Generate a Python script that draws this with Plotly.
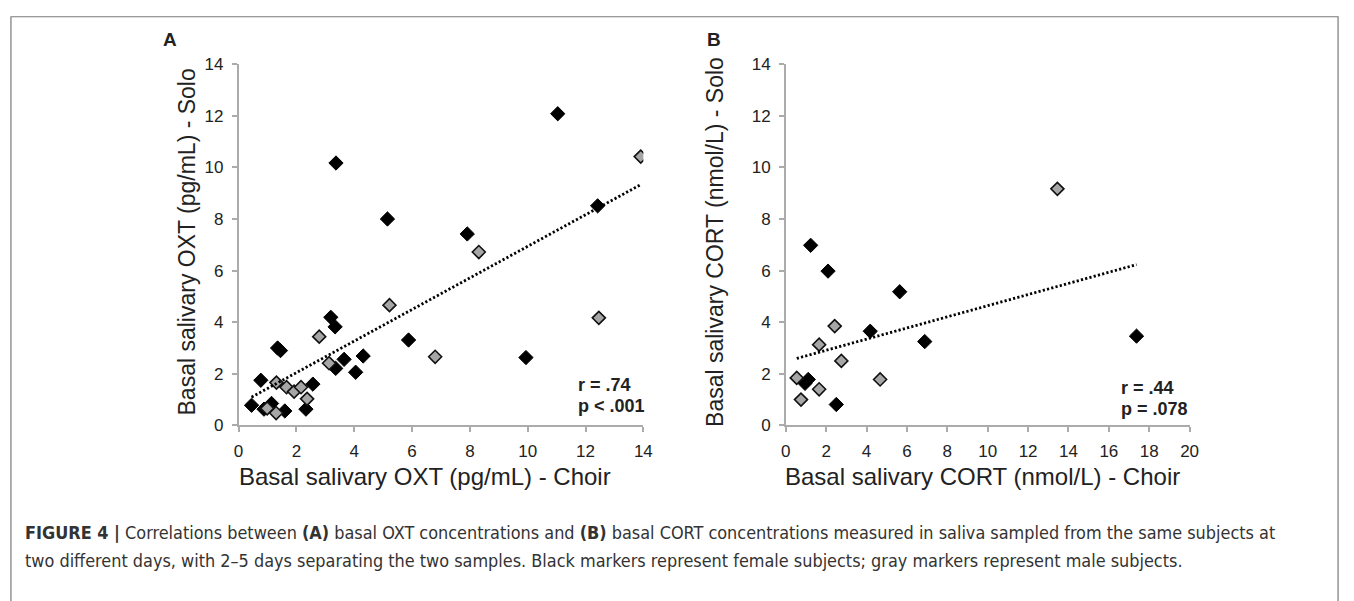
import plotly.graph_objects as go

# ---------------- data ----------------
# Panel A: OXT (pg/mL), Choir (x) vs Solo (y)
a_female_x = [3.37, 11.04, 5.15, 7.91, 12.42, 3.19, 3.34, 5.88, 1.35, 1.45, 4.31,
              3.65, 3.36, 4.05, 9.94, 0.77, 2.57, 2.33, 0.45, 0.88, 1.14, 1.60]
a_female_y = [10.17, 12.08, 8.00, 7.42, 8.51, 4.19, 3.82, 3.31, 3.00, 2.90, 2.69,
              2.56, 2.21, 2.06, 2.63, 1.75, 1.60, 0.63, 0.78, 0.63, 0.85, 0.56]
a_male_x = [13.91, 8.31, 5.22, 2.79, 3.13, 6.80, 12.46, 1.31, 1.66, 1.92, 2.16, 2.37, 0.99, 1.30]
a_male_y = [10.42, 6.72, 4.66, 3.44, 2.41, 2.66, 4.17, 1.66, 1.48, 1.31, 1.48, 1.03, 0.66, 0.48]
a_trend_slope = 0.612
a_trend_intercept = 0.82

# Panel B: CORT (nmol/L), Choir (x) vs Solo (y)
b_female_x = [1.23, 2.09, 5.64, 4.18, 6.88, 17.37, 1.11, 0.95, 2.50]
b_female_y = [6.98, 5.98, 5.18, 3.65, 3.25, 3.46, 1.78, 1.63, 0.81]
b_male_x = [13.45, 2.42, 1.65, 2.75, 0.54, 1.65, 4.67, 0.75]
b_male_y = [9.17, 3.85, 3.13, 2.50, 1.84, 1.40, 1.78, 1.00]
b_trend_slope = 0.216
b_trend_intercept = 2.48

a_x_ticks = [0, 2, 4, 6, 8, 10, 12, 14]
b_x_ticks = [0, 2, 4, 6, 8, 10, 12, 14, 16, 18, 20]
y_ticks = [0, 2, 4, 6, 8, 10, 12, 14]

a_stats = ["r = .74", "p < .001"]
b_stats = ["r = .44", "p = .078"]

# ---------------- figure ----------------
W, H = 1354, 601
FONT = "Liberation Sans, Arial, sans-serif"
AX_COL = "#ababab"
TXT = "#222222"


def px(x):
    return x / W


def py(y):
    return 1 - y / H


fig = go.Figure()

female_marker = dict(symbol="diamond", size=11, color="#000000", line=dict(color="#000000", width=1))
male_marker = dict(symbol="diamond", size=10, color="#a6a6a6", line=dict(color="#111111", width=1.6))


def add_panel(fx, fy, mx, my, slope, intercept, xa, ya):
    fig.add_trace(go.Scatter(x=fx, y=fy, mode="markers", marker=female_marker,
                             xaxis=xa, yaxis=ya, showlegend=False, hoverinfo="skip"))
    fig.add_trace(go.Scatter(x=mx, y=my, mode="markers", marker=male_marker,
                             xaxis=xa, yaxis=ya, showlegend=False, hoverinfo="skip"))
    allx = fx + mx
    x0, x1 = min(allx), max(allx)
    fig.add_trace(go.Scatter(x=[x0, x1], y=[slope * x0 + intercept, slope * x1 + intercept],
                             mode="lines", line=dict(color="#000000", width=2.8, dash="2.2px,2.2px"),
                             xaxis=xa, yaxis=ya, showlegend=False, hoverinfo="skip"))


add_panel(a_female_x, a_female_y, a_male_x, a_male_y, a_trend_slope, a_trend_intercept, "x", "y")
add_panel(b_female_x, b_female_y, b_male_x, b_male_y, b_trend_slope, b_trend_intercept, "x2", "y2")

axis_common = dict(showline=True, linecolor=AX_COL, linewidth=1.5, ticks="outside",
                   ticklen=5, tickwidth=1.5, tickcolor=AX_COL, showgrid=False, zeroline=False,
                   tickfont=dict(family=FONT, size=17, color=TXT), fixedrange=True)

ydom = [py(430), py(57)]
fig.update_layout(
    width=W, height=H, margin=dict(l=0, r=0, t=0, b=0),
    paper_bgcolor="white", plot_bgcolor="white",
    xaxis=dict(domain=[px(236), px(645)], range=[0, 14], tickvals=a_x_ticks, anchor="y",
               ticklabelstandoff=4, **axis_common),
    yaxis=dict(domain=ydom, range=[0, 14], tickvals=y_ticks, anchor="x",
               ticklabelstandoff=5, **axis_common),
    xaxis2=dict(domain=[px(789), px(1197)], range=[0, 20], tickvals=b_x_ticks, anchor="y2",
                ticklabelstandoff=4, **axis_common),
    yaxis2=dict(domain=ydom, range=[0, 14], tickvals=y_ticks, anchor="x2",
                ticklabelstandoff=5, **axis_common),
)

ann = []


def text(x, y, s, size, bold=False, angle=0, xanchor="center", color=TXT, family=FONT):
    ann.append(dict(x=px(x), y=py(y), xref="paper", yref="paper", text=(f"<b>{s}</b>" if bold else s),
                    showarrow=False, xanchor=xanchor, yanchor="middle", textangle=angle,
                    font=dict(family=family, size=size, color=color)))


# panel letters
text(167, 32, "A", 19, bold=True)
text(716, 32, "B", 19, bold=True)
# axis titles
text(184, 241, "Basal salivary OXT (pg/mL) - Solo", 23, angle=-90)
text(718, 241, "Basal salivary CORT (nmol/L) - Solo", 23, angle=-90)
text(424, 483, "Basal salivary OXT (pg/mL) - Choir", 24)
text(988, 483, "Basal salivary CORT (nmol/L) - Choir", 24)
# stats
text(577, 388, a_stats[0], 18, bold=True, xanchor="left")
text(577, 410, a_stats[1], 18, bold=True, xanchor="left")
text(1126, 391, b_stats[0], 18, bold=True, xanchor="left")
text(1126, 413, b_stats[1], 18, bold=True, xanchor="left")
# caption
CAP = "DejaVu Sans Condensed, Liberation Sans, sans-serif"
text(18, 541, "<b>FIGURE 4 |</b> Correlations between <b>(A)</b> basal OXT concentrations and "
     "<b>(B)</b> basal CORT concentrations measured in saliva sampled from the same subjects at",
     17.9, xanchor="left", color="#333333", family=CAP)
text(18, 569, "two different days, with 2–5 days separating the two samples. Black markers represent "
     "female subjects; gray markers represent male subjects.",
     17.9, xanchor="left", color="#333333", family=CAP)

fig.update_layout(annotations=ann)

# outer frame (its bottom edge lies below the visible picture)
fig.add_shape(type="rect", xref="paper", yref="paper", x0=px(6), x1=px(1347), y0=py(640), y1=py(8),
              line=dict(color="#7a7a7a", width=1.2), fillcolor="rgba(0,0,0,0)", layer="below")

fig.write_html("out.html", config={"displayModeBar": False},
               post_script="document.body.style.margin='0';document.documentElement.style.margin='0';")
